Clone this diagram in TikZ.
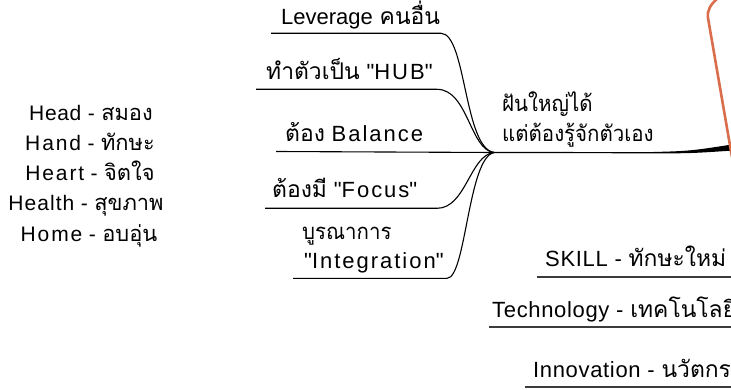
\documentclass[tikz,border=0pt]{standalone}
\usepackage{fontspec}
\setmainfont{Liberation Sans}[LetterSpace=3]
\newfontfamily\qfnt{Liberation Sans}[LetterSpace=3]
\newfontfamily\thaifnt[Script=Thai,Scale=1.04]{Loma}
\newfontfamily\thainarrow[Script=Thai,FakeStretch=0.93]{Loma}
\newcommand{\tht}[1]{{\thaifnt #1}}
\newcommand{\thn}[1]{{\thainarrow #1}}
\newcommand{\dq}{{\qfnt"}}
\newcommand{\wide}[1]{{\addfontfeature{LetterSpace=9}#1}}
\definecolor{orangeedge}{RGB}{218,110,76}
\definecolor{ulgray}{RGB}{60,60,60}
\tikzset{
  lbl/.style={inner sep=0pt, anchor=base west, font=\fontsize{22}{26}\selectfont},
  lblc/.style={inner sep=0pt, anchor=base, font=\fontsize{21}{25}\selectfont},
  branch/.style={draw=black, line width=1.1pt},
  uline/.style={draw=ulgray, line width=1.3pt},
}
\begin{document}
\begin{tikzpicture}[x=1pt,y=-1pt]
\useasboundingbox (0,0) rectangle (731,390);
\clip (0,0) rectangle (731,390);
% left block
\node[lblc] (head) at (91,121) {Head - \tht{สมอง}};
\node[lblc] (hand) at (90,151) {\wide{Hand} - \tht{ทักษะ}};
\node[lblc] (heart) at (90,181) {\wide{Heart} - \tht{จิตใจ}};
\node[lblc] (health) at (86,211) {{\addfontfeature{LetterSpace=5}Health} - \tht{สุขภาพ}};
\node[lblc] (home) at (89,241) {\wide{Home} - \tht{อบอุ่น}};
% branch labels
\node[lbl] (lev) at (281,25) {{\addfontfeature{LetterSpace=0}Leverage} \tht{คนอื่น}};
\node[lbl] (hub) at (266,80) {\tht{ทำตัวเป็น} \dq\wide{HUB}\dq};
\node[lbl] (bal) at (285,142) {\tht{ต้อง} \wide{Balance}};
\node[lbl] (foc) at (272,198) {\tht{ต้องมี} \dq\wide{Focus}\dq};
\node[lbl] (int1) at (302,240) {\thn{บูรณาการ}};
\node[lbl] (int2) at (304,269) {\dq\wide{Integration}\dq};
% main label
\node[lbl] (m1) at (502,112) {\thn{ฝันใหญ่ได้}};
\node[lbl] (m2) at (502,142) {\thn{แต่ต้องรู้จักตัวเอง}};
% junction and branch lines
\coordinate (J) at (494,152.5);
\coordinate (levA) at (271,33.3); \coordinate (levB) at (441,33.3);
\coordinate (hubA) at (256,89.3); \coordinate (hubB) at (437,89.3);
\coordinate (balA) at (276,151.5);
\coordinate (focA) at (265,208.3); \coordinate (focB) at (437,208.3);
\coordinate (intA) at (293,278.3); \coordinate (intB) at (447,278.3);
\draw[branch] (levA) -- (levB) .. controls (466,33.3) and (464,148) .. (J);
\draw[branch] (hubA) -- (hubB) .. controls (468,89.3) and (470,150) .. (J);
\draw[branch] (balA) -- (J);
\draw[branch] (focA) -- (focB) .. controls (466,208.3) and (470,155) .. (J);
\draw[branch] (intA) -- (intB) .. controls (466,278.3) and (468,158) .. (J);
% tapered main branch
\fill[black] (J) ++(0,-0.6) -- (650,152.1) .. controls (690,151) .. (732,144.5)
  -- (732,150.6) .. controls (690,153.4) .. (650,153.3) -- (494,153.1) -- cycle;
% orange edge of central topic
\draw[orangeedge, line width=2.6pt, line cap=round] (719,-3) .. controls (710,5) and (707,10) .. (708,18) -- (732,157);
% right-bottom branches
\node[lbl] (skill) at (545,266.5) {SKILL - \tht{ทักษะใหม่}};
\node[lbl] (tech) at (492,317.5) {Technology - \tht{เทคโนโลยี}};
\node[lbl] (inno) at (533,377.5) {Innovation - \tht{นวัตกรรม}};
\coordinate (skA) at (537,277); \coordinate (skB) at (732,277);
\coordinate (teA) at (489,327); \coordinate (teB) at (732,327);
\coordinate (inA) at (525,387); \coordinate (inB) at (732,387);
\draw[uline] (skA) -- (skB);
\draw[uline] (teA) -- (teB);
\draw[uline] (inA) -- (inB);
\end{tikzpicture}
\end{document}
